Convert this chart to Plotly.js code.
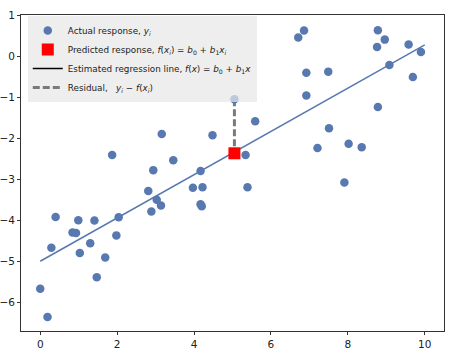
<!DOCTYPE html>
<html>
<head>
<meta charset="utf-8">
<script src="https://cdn.plot.ly/plotly-3.0.1.min.js"></script>
<style>html,body{margin:0;padding:0;background:#fff}#chart{width:474px;height:356px}</style>
</head>
<body>
<div id="chart"></div>
<script>
// Observed data points (x, y)
const xActual = [5.05, 5.59, 3.16, 4.48, 1.87, 3.46, 2.94, 4.17, 5.34, 6.71, 6.86, 6.92, 7.49, 6.92, 7.51, 7.21, 8.02, 8.36, 8.78, 8.96, 8.76, 9.08, 8.78, 9.58, 9.90, 9.69,
  7.91, 2.81, 3.97, 4.22, 5.39, 3.03, 3.14, 2.89, 4.17, 4.20, 0.40, 0.99, 1.41, 2.04, 0.84, 0.93, 1.98, 1.30, 0.29, 1.03, 1.69, 1.47, 0.00, 0.19];
const yActual = [-1.05, -1.59, -1.90, -1.93, -2.41, -2.54, -2.78, -2.80, -2.41, 0.45, 0.62, -0.41, -0.38, -0.96, -1.76, -2.24, -2.14, -2.22, 0.63, 0.40, 0.22, -0.22, -1.24, 0.28, 0.10, -0.51,
  -3.08, -3.29, -3.21, -3.20, -3.20, -3.50, -3.64, -3.79, -3.61, -3.66, -3.92, -4.00, -4.01, -3.93, -4.30, -4.31, -4.37, -4.56, -4.67, -4.80, -4.91, -5.39, -5.67, -6.36];
// Estimated regression line endpoints
const xLine = [0, 10];
const yLine = [-5.00, 0.27];
// Highlighted residual
const xResidual = [5.05, 5.05];
const yResidual = [-1.05, -2.37];
// Predicted response
const xPred = [5.05];
const yPred = [-2.37];

const blue = '#5879b0';
const traces = [
  {x: xResidual, y: yResidual, type: 'scatter', mode: 'lines',
   name: 'Residual,   <i>y<sub>i</sub></i> − <i>f</i>(<i>x<sub>i</sub></i>)',
   line: {color: '#7a7a7a', width: 3, dash: '7px,3px'}, legendrank: 4},
  {x: xActual, y: yActual, type: 'scatter', mode: 'markers', name: 'Actual response, <i>y<sub>i</sub></i>',
   marker: {color: blue, size: 8.5}, legendrank: 1},
  {x: xLine, y: yLine, type: 'scatter', mode: 'lines', showlegend: false,
   line: {color: blue, width: 1.5}, hoverinfo: 'skip'},
  {x: [null], y: [null], type: 'scatter', mode: 'lines',
   name: 'Estimated regression line, <i>f</i>(<i>x</i>) = <i>b</i><sub>0</sub> + <i>b</i><sub>1</sub><i>x</i>',
   line: {color: '#000', width: 1.5}, legendrank: 3},
  {x: xPred, y: yPred, type: 'scatter', mode: 'markers',
   name: 'Predicted response, <i>f</i>(<i>x<sub>i</sub></i>) = <i>b</i><sub>0</sub> + <i>b</i><sub>1</sub><i>x<sub>i</sub></i>',
   marker: {color: '#ff0000', size: 12, symbol: 'square'}, legendrank: 2}
];

const axisCommon = {
  showgrid: false, zeroline: false, showline: true, mirror: true,
  linecolor: '#333', linewidth: 1, ticks: 'outside', ticklen: 3, tickcolor: '#333',
  tickfont: {family: 'DejaVu Sans', size: 10.5, color: '#222'}
};
const layout = {
  width: 474, height: 356,
  margin: {l: 21, r: 30, t: 15, b: 25},
  paper_bgcolor: '#fff', plot_bgcolor: '#fff',
  font: {family: 'DejaVu Sans', color: '#222'},
  xaxis: Object.assign({}, axisCommon, {range: [-0.5, 10.5], dtick: 2, tick0: 0}),
  yaxis: Object.assign({}, axisCommon, {range: [-6.70, 1.0], dtick: 1, tick0: 0}),
  showlegend: true,
  legend: {x: 0.016, y: 0.997, xanchor: 'left', yanchor: 'top',
    bgcolor: 'rgba(232,232,232,0.72)', borderwidth: 0,
    font: {family: 'DejaVu Sans', size: 8.8, color: '#222'},
    itemwidth: 30, tracegroupgap: 0, traceorder: 'normal'}
};
Plotly.newPlot('chart', traces, layout, {displayModeBar: false, staticPlot: true});
</script>
</body>
</html>
